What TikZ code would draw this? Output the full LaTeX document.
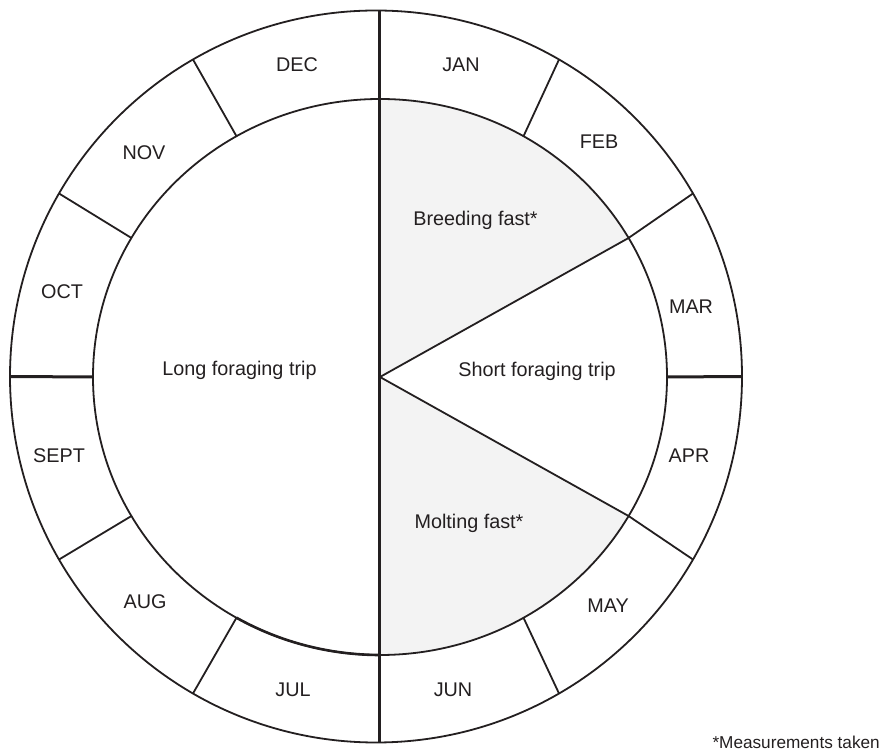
\documentclass[tikz,border=0pt]{standalone}
\usepackage{fontspec}
\setmainfont{Liberation Sans}
\definecolor{ink}{HTML}{231F20}
\definecolor{fastgray}{HTML}{F3F3F3}
\begin{document}
\begin{tikzpicture}[x=1pt,y=1pt,
  thinline/.style={draw=ink,line width=1.8pt},
  thickline/.style={draw=ink,line width=3pt},
  lbl/.style={font=\fontsize{19.8}{23}\selectfont,text=ink,anchor=base,inner sep=0pt},
  note/.style={font=\fontsize{17.2}{20}\selectfont,text=ink,anchor=base east,inner sep=0pt}]
\useasboundingbox (0,0) rectangle (881,752);
\coordinate (C) at (380,375);
\coordinate (O) at (376,375.5);
\coordinate (T) at (379.5,742);
\coordinate (B) at (379.5,9);
% shaded sectors
\fill[fastgray] (C) -- ++(30:287 and 278) arc[start angle=30,end angle=90,x radius=287,y radius=278] -- cycle;
\fill[fastgray] (C) -- ++(-90:287 and 278) arc[start angle=-90,end angle=-30,x radius=287,y radius=278] -- cycle;
% circles
\draw[thinline] (O) circle[radius=366];
\draw[thinline] (C) ellipse[x radius=287,y radius=278];
\draw[draw=ink,line width=2.6pt] (C) ++(240:287 and 278) arc[start angle=240,end angle=270,x radius=287,y radius=278];
% coordinates
\foreach \a in {0,30,60,120,150,180,210,240,300,330}{
  \path (C) ++(\a:287 and 278) coordinate (in\a);
  \path (O) ++(\a:366) coordinate (out\a);
}
\foreach \a in {30,60,120,150,210,240,300,330}{
  \draw[thinline] (in\a) -- (out\a);
}
\draw[thinline,line join=miter] (in30) -- (C) -- (in330);
\draw[thickline] (T) -- (B);
\draw[thickline] (in0) -- (out0);
\draw[thickline] (in180) -- (out180);
% labels
\node[lbl] (dec) at (297,680.5) {DEC};
\node[lbl] (jan) at (461,680.5) {JAN};
\node[lbl] (feb) at (599,603.5) {FEB};
\node[lbl] (mar) at (691,438.5) {MAR};
\node[lbl] (apr) at (689,289.5) {APR};
\node[lbl] (may) at (608,139.5) {MAY};
\node[lbl] (jun) at (453,55.5) {JUN};
\node[lbl] (jul) at (293,55.5) {JUL};
\node[lbl] (aug) at (145,143.5) {AUG};
\node[lbl] (sept) at (59,289.5) {SEPT};
\node[lbl] (oct) at (62,453.5) {OCT};
\node[lbl] (nov) at (144,592.5) {NOV};
\node[lbl] (breed) at (475.5,526) {Breeding fast*};
\node[lbl] (short) at (537,375.5) {Short foraging trip};
\node[lbl] (molt) at (469,223.5) {Molting fast*};
\node[lbl] (long) at (239.5,376) {Long foraging trip};
\node[note] (foot) at (880,3) {*Measurements taken};
\end{tikzpicture}
\end{document}
